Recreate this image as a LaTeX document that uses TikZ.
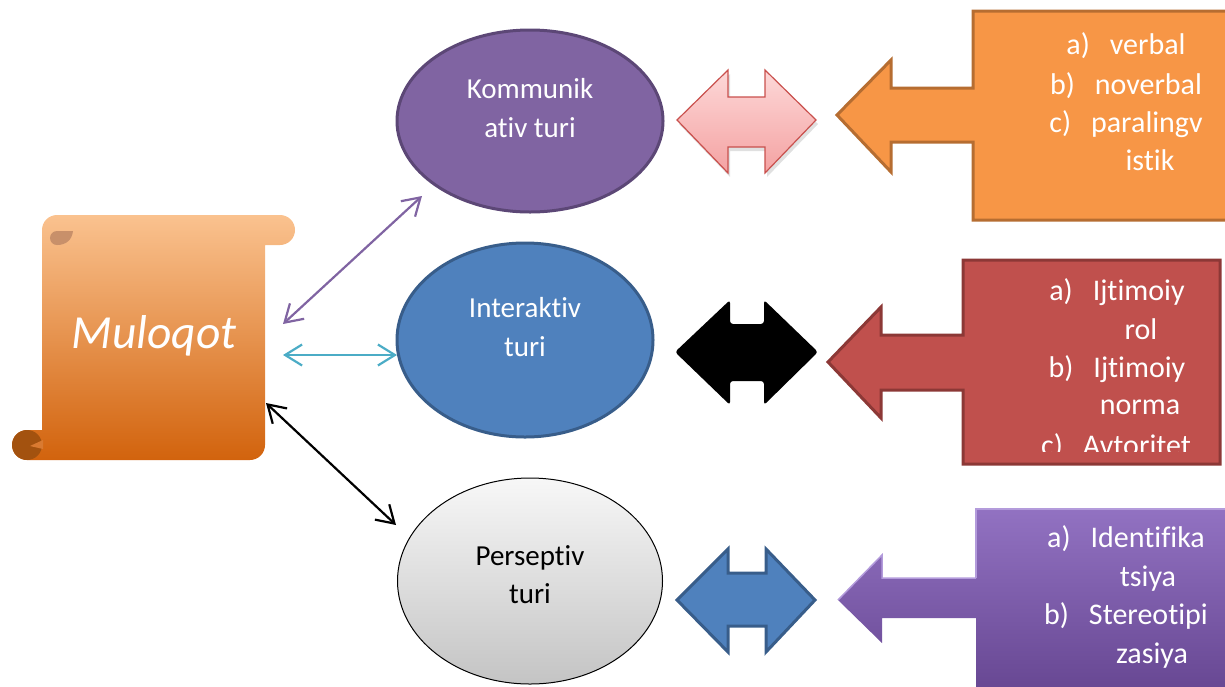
\documentclass[tikz,border=0pt]{standalone}
\usepackage{fontspec}
\setmainfont{Carlito}[Ligatures={NoCommon}]
\usetikzlibrary{shapes.geometric,arrows.meta}
\definecolor{kommFill}{HTML}{8064A2}
\definecolor{kommLine}{HTML}{5C4776}
\definecolor{interFill}{HTML}{4F81BD}
\definecolor{interLine}{HTML}{385D8A}
\definecolor{persTop}{HTML}{F7F7F7}
\definecolor{persBot}{HTML}{C4C4C4}
\definecolor{pinkTop}{HTML}{FDD8D8}
\definecolor{pinkBot}{HTML}{F4A2A2}
\definecolor{pinkLine}{HTML}{C9504D}
\definecolor{orangeFill}{HTML}{F79646}
\definecolor{orangeLine}{HTML}{B66D31}
\definecolor{redFill}{HTML}{C0504D}
\definecolor{redLine}{HTML}{8C3836}
\definecolor{purpTop}{HTML}{9272C2}
\definecolor{purpBot}{HTML}{654590}
\definecolor{purpEdge}{HTML}{B39BDB}
\definecolor{scrollTop}{HTML}{FAC28F}
\definecolor{scrollMid}{HTML}{F49B4F}
\definecolor{scrollBot}{HTML}{D2630D}
\definecolor{curlA}{HTML}{C8906A}
\definecolor{curlB}{HTML}{A3520F}
\definecolor{connPurple}{HTML}{8064A2}
\definecolor{connCyan}{HTML}{4BACC6}
\begin{document}
\begin{tikzpicture}[x=1pt,y=-1pt,
  ell/.style={ellipse, inner sep=0pt, minimum width=266pt, minimum height=182pt},
  ltext/.style={anchor=base, inner sep=0pt, font=\fontsize{29}{35}\selectfont},
  ctext/.style={anchor=base, inner sep=0pt, text=white, font=\fontsize{30}{36}\selectfont},
  conn/.style={line width=2.2pt, >={Straight Barb[length=17pt,width=21pt]}, <->},
  blockarrow/.style={line join=miter}
]
\useasboundingbox (0,0) rectangle (1225,686);
\begin{scope}
\clip (0,0) rectangle (1225,686);

% ---------- scroll ----------
\shade[top color=scrollTop, middle color=scrollMid, bottom color=scrollBot]
  (42,430) -- (42,230) arc[start angle=180,end angle=270,radius=15]
  -- (280,215) arc[start angle=270,end angle=450,radius=15]
  -- (265,245) -- (265,445) arc[start angle=0,end angle=90,radius=15]
  -- (27,460) arc[start angle=90,end angle=270,radius=15] -- cycle;
\fill[curlA] (57,238) circle[radius=7];
\fill[curlA] (57,231) -- (73,231) .. controls (72,240) and (66,245) .. (57,245) -- cycle;
\fill[curlB] (27,445) circle[radius=15];
\fill[scrollBot!85!white] (30,446) -- (43,440) -- (43,449) -- cycle;
\node[anchor=base, inner sep=0pt, text=white, font=\fontsize{47.5}{50}\selectfont\itshape] (mul) at (154,348) {Muloqot};

% ---------- ellipses ----------
\node[ell, fill=kommFill, draw=kommLine, line width=3pt] (komm) at (530,121) {};
\node[ltext, text=white] (kommA) at (530,98) {Kommunik};
\node[ltext, text=white] (kommB) at (530,137) {ativ turi};

\node[ell, fill=interFill, draw=interLine, line width=3pt, minimum width=256pt, minimum height=194pt] (inter) at (525,340) {};
\node[ltext, text=white] (interA) at (525,317) {Interaktiv};
\node[ltext, text=white] (interB) at (525,356) {turi};

\node[ell, top color=persTop, bottom color=persBot, draw=black, line width=1pt, minimum width=265pt, minimum height=206pt] (pers) at (530,581) {};
\node[ltext, text=black] (persA) at (530,565) {Perseptiv};
\node[ltext, text=black] (persB) at (530,603) {turi};

% ---------- connectors ----------
\coordinate (mTop) at (283,324);
\coordinate (kEnd) at (422,196);
\coordinate (mMid) at (283,355);
\coordinate (iEnd) at (397,355);
\coordinate (mBot) at (266,403);
\coordinate (pEnd) at (396,525);
\draw[conn, connPurple] (mTop) -- (kEnd);
\draw[conn, connCyan] (mMid) -- (iEnd);
\draw[conn, black] (mBot) -- (pEnd);

% ---------- double block arrows ----------
\fill[black!12] (679,124) -- (730,74) -- (730,101) -- (767,101) -- (767,74) -- (818,124) -- (767,177) -- (767,151) -- (730,151) -- (730,177) -- cycle;
\shade[top color=pinkTop, bottom color=pinkBot, draw=pinkLine, line width=1.2pt, blockarrow]
  (677,120) -- (728,70) -- (728,97) -- (765,97) -- (765,70) -- (816,120)
  -- (765,173) -- (765,147) -- (728,147) -- (728,173) -- cycle;
\fill[black, rounded corners=3pt]
  (675,352) -- (730,300) -- (730,324) -- (764,324) -- (764,300) -- (818,352)
  -- (764,405) -- (764,381) -- (730,381) -- (730,405) -- cycle;
\filldraw[fill=interFill, draw=interLine, line width=3pt, blockarrow]
  (677,600) -- (728,549) -- (728,573) -- (766,573) -- (766,549) -- (815,600)
  -- (766,652) -- (766,626) -- (728,626) -- (728,652) -- cycle;

% ---------- callouts ----------
\filldraw[fill=orangeFill, draw=orangeLine, line width=3pt, blockarrow]
  (973,11) -- (1240,11) -- (1240,220) -- (973,220) -- (973,142) -- (891,142)
  -- (891,172) -- (837,115) -- (891,60) -- (891,88) -- (973,88) -- cycle;
\node[ctext] (o1) at (1126,54) {a)\hspace{20pt}verbal};
\node[ctext] (o2) at (1126,94) {b)\hspace{20pt}noverbal};
\node[ctext] (o3) at (1126,132) {c)\hspace{20pt}paralingv};
\node[ctext] (o4) at (1150,170) {istik};

\filldraw[fill=redFill, draw=redLine, line width=3pt, blockarrow]
  (963,260) -- (1220,260) -- (1220,464) -- (963,464) -- (963,390) -- (881,390)
  -- (881,418) -- (828,362) -- (881,307) -- (881,335) -- (963,335) -- cycle;
\node[ctext] (r1) at (1117,300) {a)\hspace{20pt}Ijtimoiy};
\node[ctext] (r2) at (1141,339) {rol};
\node[ctext] (r3) at (1117,377) {b)\hspace{20pt}Ijtimoiy};
\node[ctext] (r4) at (1140,414) {norma};
\begin{scope}
\clip (960,420) rectangle (1220,451);
\node[ctext] (r5) at (1116,455) {c)\hspace{20pt}Avtoritet};
\end{scope}

\shade[top color=purpTop, bottom color=purpBot, blockarrow]
  (976,508) -- (1240,508) -- (1240,700) -- (976,700) -- (976,618) -- (882,618)
  -- (882,643) -- (838,600) -- (882,555) -- (882,578) -- (976,578) -- cycle;
\draw[purpEdge, line width=1.5pt] (976,578) -- (976,509) -- (1240,509);
\draw[purpEdge, line width=1.5pt] (838,600) -- (882,555) -- (882,578) -- (976,578);
\node[ctext] (p1) at (1126,547) {a)\hspace{20pt}Identifika};
\node[ctext] (p2) at (1148,586) {tsiya};
\node[ctext] (p3) at (1126,624) {b)\hspace{20pt}Stereotipi};
\node[ctext] (p4) at (1152,663) {zasiya};
\end{scope}
\end{tikzpicture}
\end{document}
